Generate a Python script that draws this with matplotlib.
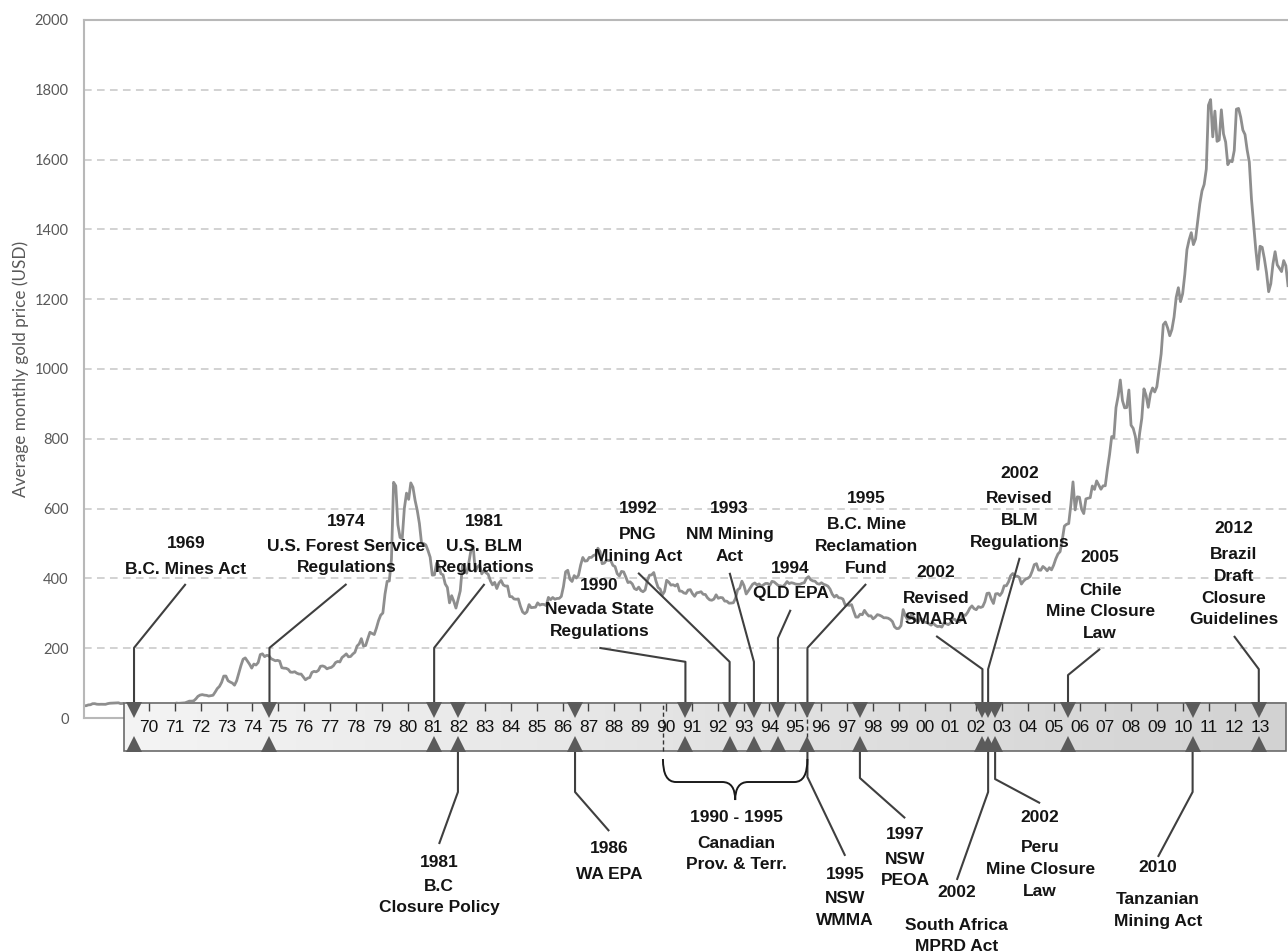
import matplotlib
matplotlib.use("Agg")
import matplotlib.pyplot as plt
import numpy as np
from matplotlib.colors import LinearSegmentedColormap
from matplotlib.patches import PathPatch, Rectangle
from matplotlib.path import Path

# --------------------------------------------------------------------------- #
# data: monthly average gold price (USD/oz), Jan 1968 .. Sep 2014
# --------------------------------------------------------------------------- #
price_1968_1979 = [
    35.2, 35.2, 37.5, 38.0, 41.0, 41.1, 39.5, 39.2, 39.4, 39.2, 39.2, 41.1,
    42.3, 42.6, 43.2, 43.3, 43.5, 41.3, 41.8, 41.0, 40.8, 40.2, 37.4, 35.2,
    34.9, 35.0, 35.1, 35.6, 35.9, 35.4, 35.3, 35.4, 36.2, 37.5, 37.4, 37.4,
    37.9, 38.7, 38.9, 39.0, 40.5, 40.1, 41.0, 42.7, 42.0, 42.5, 42.9, 43.5,
    45.8, 48.3, 48.3, 49.0, 54.6, 62.1, 65.7, 67.0, 65.5, 64.9, 62.9, 63.9,
    65.1, 74.2, 84.4, 90.5, 102.0, 120.1, 120.2, 106.8, 103.0, 100.1, 94.0, 106.7,
    129.0, 150.2, 168.4, 172.2, 163.1, 154.1, 143.0, 154.6, 151.8, 158.8, 181.7, 183.9,
    175.8, 179.6, 178.2, 170.1, 167.0, 164.0, 165.2, 163.0, 144.1, 142.8, 142.4, 139.3,
    131.5, 131.0, 132.6, 128.4, 125.9, 125.8, 117.8, 109.5, 114.0, 116.0, 130.6, 133.6,
    132.3, 136.3, 148.2, 149.2, 146.8, 140.9, 143.6, 144.9, 149.7, 158.8, 162.1, 160.5,
    173.2, 178.2, 183.7, 175.4, 176.2, 183.1, 188.2, 206.1, 212.4, 227.4, 206.0, 207.8,
    227.3, 245.7, 242.1, 239.2, 257.5, 279.1, 294.7, 300.8, 355.1, 391.7, 392.5, 455.1,
]
price_1980_1989 = [
    675.3, 665.3, 553.6, 517.4, 513.8, 600.7, 644.3, 626.5, 673.6, 661.1, 623.5, 594.9,
    557.4, 500.4, 499.8, 495.8, 479.7, 460.8, 409.3, 410.1, 443.6, 437.7, 413.4, 410.1,
    384.2, 374.2, 330.0, 350.5, 334.5, 315.0, 339.5, 364.3, 435.5, 422.3, 415.0, 445.4,
    481.3, 492.0, 420.2, 432.6, 438.4, 413.0, 422.3, 416.2, 411.6, 393.5, 381.6, 388.6,
    370.9, 386.8, 394.2, 381.4, 378.0, 378.3, 347.7, 347.7, 341.1, 340.2, 341.2, 319.9,
    303.9, 298.9, 304.0, 324.9, 316.2, 316.9, 317.5, 329.9, 323.5, 325.8, 325.3, 322.0,
    345.6, 338.9, 345.3, 340.4, 342.5, 342.7, 348.4, 376.6, 418.8, 423.3, 397.7, 391.2,
    408.0, 401.1, 408.8, 438.3, 460.0, 449.6, 450.5, 460.2, 460.0, 465.9, 467.4, 486.5,
    477.4, 442.2, 443.9, 452.0, 451.4, 451.4, 437.3, 433.9, 413.5, 406.9, 420.1, 418.6,
    404.1, 388.0, 390.2, 384.3, 371.0, 367.6, 375.0, 365.4, 361.8, 366.9, 393.9, 409.2,
]
price_1990_1999 = [
    410.1, 416.8, 393.1, 374.3, 369.2, 352.4, 362.5, 394.7, 389.3, 380.7, 381.9, 378.2,
    383.6, 363.8, 363.3, 358.4, 356.8, 366.7, 367.7, 356.2, 348.7, 358.7, 359.8, 361.8,
    354.4, 353.9, 344.3, 338.6, 337.4, 340.9, 353.0, 342.9, 345.3, 344.4, 335.0, 334.7,
    329.0, 329.3, 330.1, 342.2, 367.2, 371.9, 392.0, 379.0, 355.3, 364.2, 373.8, 383.3,
    386.9, 381.5, 384.1, 377.3, 381.4, 385.6, 385.5, 380.4, 391.6, 389.8, 384.4, 379.3,
    378.6, 376.6, 382.3, 391.0, 385.2, 387.6, 386.2, 383.7, 383.1, 383.1, 386.0, 387.4,
    400.0, 405.0, 396.2, 392.9, 392.0, 385.3, 383.5, 387.5, 383.1, 381.1, 377.8, 369.3,
    355.0, 346.6, 351.8, 344.5, 343.8, 340.8, 324.1, 324.0, 322.8, 324.9, 306.0, 289.2,
    289.1, 297.5, 295.9, 308.4, 299.1, 292.3, 292.9, 284.1, 288.9, 296.2, 294.6, 291.6,
    287.1, 287.3, 286.0, 282.4, 276.4, 261.3, 256.1, 256.7, 264.7, 310.7, 293.2, 283.1,
]
price_2000_2009 = [
    284.3, 299.9, 286.4, 279.7, 275.3, 285.7, 281.6, 274.5, 273.7, 270.0, 266.0, 271.5,
    265.5, 261.9, 263.0, 260.5, 272.4, 270.2, 267.5, 272.4, 283.4, 283.1, 276.2, 275.9,
    281.7, 295.5, 294.1, 302.7, 314.5, 321.2, 313.3, 310.3, 319.2, 316.6, 319.1, 333.0,
    356.9, 358.0, 340.6, 328.2, 355.7, 356.5, 351.0, 359.8, 378.9, 378.9, 389.9, 407.6,
    414.0, 405.3, 406.7, 403.0, 383.8, 392.4, 398.1, 400.5, 405.3, 420.5, 439.4, 442.1,
    424.0, 423.4, 434.2, 429.2, 421.9, 430.7, 424.5, 437.9, 456.1, 469.9, 476.7, 510.1,
    549.9, 555.0, 557.1, 610.7, 676.5, 596.2, 633.7, 632.6, 598.2, 585.8, 627.8, 629.8,
    631.2, 664.8, 654.9, 679.4, 667.3, 655.5, 665.3, 665.4, 712.7, 754.6, 806.3, 803.2,
    889.6, 922.3, 968.4, 909.7, 888.7, 889.5, 939.8, 839.0, 829.9, 806.6, 760.9, 816.1,
    858.7, 943.2, 924.3, 890.2, 928.6, 945.7, 934.2, 949.4, 996.6, 1043.2, 1127.0, 1134.7,
]
price_2010_2014 = [
    1118.0, 1095.4, 1113.3, 1148.7, 1205.4, 1232.9, 1193.0, 1215.8, 1271.0, 1342.0, 1369.9, 1390.6,
    1356.4, 1372.7, 1424.0, 1473.8, 1510.4, 1528.7, 1572.8, 1755.8, 1771.9, 1665.2, 1739.0, 1652.3,
    1656.1, 1742.6, 1673.8, 1650.1, 1585.5, 1596.7, 1593.9, 1626.0, 1744.5, 1746.6, 1721.6, 1684.8,
    1671.9, 1627.6, 1593.1, 1487.9, 1414.0, 1343.4, 1285.5, 1351.7, 1348.6, 1316.6, 1275.8, 1221.5,
    1244.3, 1301.0, 1336.1, 1298.5, 1288.7, 1279.1, 1310.6, 1296.0, 1238.8,
]

# timeline (own scale, drawn under the price chart)
timeline_years = list(range(1970, 2014))
marker_pos = [1969.42, 1974.66, 1981.03, 1981.95, 1986.48, 1990.75, 1992.46, 1993.40,
              1994.33, 1995.47, 1997.50, 2002.24, 2002.46, 2002.73, 2005.55, 2010.37, 2012.93]

event_year = ["1969", "1974", "1981", "1990", "1992", "1993", "1994", "1995",
              "2002", "2002", "2005", "2012",
              "1981", "1986", "1995", "1997", "2002", "2002", "2010"]
event_text = ["B.C. Mines Act", "U.S. Forest Service\nRegulations", "U.S. BLM\nRegulations",
              "Nevada State\nRegulations", "PNG\nMining Act", "NM Mining\nAct", "QLD EPA",
              "B.C. Mine\nReclamation\nFund", "Revised\nSMARA", "Revised\nBLM\nRegulations",
              "Chile\nMine Closure\nLaw", "Brazil\nDraft\nClosure\nGuidelines",
              "B.C\nClosure Policy", "WA EPA", "NSW\nWMMA", "NSW\nPEOA",
              "South Africa\nMPRD Act", "Peru\nMine Closure\nLaw", "Tanzanian\nMining Act"]
event_pos = [1969.42, 1974.66, 1981.03, 1990.75, 1992.46, 1993.40, 1994.33, 1995.47,
             2002.24, 2002.46, 2005.55, 2012.93,
             1981.95, 1986.48, 1995.47, 1997.50, 2002.46, 2002.73, 2010.37]
event_side = ["top"] * 12 + ["bottom"] * 7

range_start, range_end = 1989.88, 1995.47
range_year = "1990 - 1995"
range_text = "Canadian\nProv. & Terr."

# --------------------------------------------------------------------------- #
# layout (label centre x in timeline years, heights in USD units)
# --------------------------------------------------------------------------- #
lab_x = [1971.42, 1977.64, 1982.98, 1987.42, 1988.92, 1992.46, 1994.82, 1997.74,
         2000.45, 2003.68, 2006.79, 2011.97,
         1981.22, 1987.80, 1996.93, 1999.25, 2001.25, 2004.47, 2009.03]
year_y = [501, 562, 562, 381, 599, 599, 427, 630, 416, 702, 459, 542,
          -413, -373, -447, -335, -501, -284, -427]
body_y = [448, 514, 514, 331, 546, 546, 377, 575, 365, 649, 388, 489,
          -460, -426, -496, -383, -572, -351, -500]
elbow_y = [201, 201, 201, 161, 161, 161, 229, 201, 140, 140, 123, 140,
           -212, -212, -169, -172, -212, -175, -212]
end_y = [384, 384, 384, 201, 416, 416, 310, 384, 235, 459, 198, 235,
         -361, -324, -395, -287, -464, -244, -398]

BAR_TOP, BAR_BOT = 43, -94.6
BAR_L, BAR_R = 1969.03, 2013.98

price = np.array(price_1968_1979 + price_1980_1989 + price_1990_1999
                 + price_2000_2009 + price_2010_2014)
dates = 1968 + np.arange(len(price)) / 12

fig = plt.figure(figsize=(12.88, 9.52), dpi=100)
ax = fig.add_axes([84 / 1288, 234 / 952, 1204 / 1288, 698 / 952])

ax.plot(dates, price, color="#8e8e8e", lw=2.0, solid_joinstyle="round", zorder=2)
ax.set_xlim(1968, dates[-1])
ax.set_xticks([])
ax.set_yticks(np.arange(0, 2001, 200))
ax.tick_params(axis="y", length=0, pad=11, labelcolor="#595959", labelsize=10.5)
for t in ax.get_yticklabels():
    t.set_family("Lato")
ax.yaxis.grid(True, ls=(0, (5, 3.5)), color="#c6c6c6", lw=1.1)
ax.set_axisbelow(True)
ax.set_ylabel("Average monthly gold price (USD)", color="#595959", fontsize=12.3, family="Lato")
ax.yaxis.set_label_coords(-0.046, 0.5)
for s in ["right", "bottom"]:
    ax.spines[s].set_visible(False)
for s in ["top", "left"]:
    ax.spines[s].set_color("#b8b8b8")
    ax.spines[s].set_linewidth(1.5)

# timeline axes shares the price scale vertically
ax2 = ax.twiny()
ax2.set_xlim(1967.485, 2014.06)
ax2.set_xticks([])
for s in ["top", "left", "right"]:
    ax2.spines[s].set_visible(False)
ax2.spines["bottom"].set_color("#b8b8b8")
ax2.spines["bottom"].set_linewidth(1.5)
ax2.spines["bottom"].set_bounds(1967.485, BAR_L)

cmap = LinearSegmentedColormap.from_list("bar", ["#f4f4f4", "#d2d2d2"])
im = ax2.imshow(np.linspace(0, 1, 256)[None, :], extent=[BAR_L, BAR_R, BAR_BOT, BAR_TOP],
                aspect="auto", cmap=cmap, zorder=3)
im.set_clip_on(False)
ax2.add_patch(Rectangle((BAR_L, BAR_BOT), BAR_R - BAR_L, BAR_TOP - BAR_BOT, fill=False,
                        ec="#6b6b6b", lw=1.2, clip_on=False, zorder=4))
ax2.vlines(timeline_years, BAR_TOP - 23, BAR_TOP, color="#404040", lw=1, zorder=5, clip_on=False)
for y in timeline_years:
    ax2.text(y, -28.6, f"{y % 100:02d}", ha="center", va="center", fontsize=12.5,
             family="Liberation Sans", color="#111111", zorder=6, clip_on=False)
ax2.vlines([range_start, range_end], BAR_BOT, BAR_TOP, color="#333333", lw=1,
           linestyles=(0, (3, 2)), zorder=5, clip_on=False)

ax2.plot(marker_pos, [22.9] * len(marker_pos), "v", ms=11.5, color="#5b5b5b", mew=0,
         clip_on=False, zorder=7)
ax2.plot(marker_pos, [-74.5] * len(marker_pos), "^", ms=11.5, color="#5b5b5b", mew=0,
         clip_on=False, zorder=7)

lab_font = dict(family="Liberation Sans", fontweight="bold", fontsize=12.5, color="#141414",
                ha="center", clip_on=False, zorder=8, linespacing=1.56)
for i in range(len(event_year)):
    start = BAR_TOP if event_side[i] == "top" else BAR_BOT
    ax2.plot([event_pos[i], event_pos[i], lab_x[i]], [start, elbow_y[i], end_y[i]],
             color="#3f3f3f", lw=1.5, clip_on=False, zorder=5, solid_capstyle="butt")
    ax2.text(lab_x[i], year_y[i], event_year[i], va="center", **lab_font)
    ax2.text(lab_x[i], body_y[i], event_text[i], va="top", **lab_font)

# curly brace for the 1990 - 1995 Canadian range
bx0, bx1 = range_start, range_end
bxm = (bx0 + bx1) / 2
yt, ym, yp = -117.5, -183.4, -235
r = 0.5
verts = [(bx0, yt), (bx0, ym), (bx0 + r, ym), (bxm - r, ym), (bxm, ym), (bxm, yp),
         (bxm, ym), (bxm + r, ym), (bx1 - r, ym), (bx1, ym), (bx1, yt)]
codes = [Path.MOVETO, Path.CURVE3, Path.CURVE3, Path.LINETO, Path.CURVE3, Path.CURVE3,
         Path.CURVE3, Path.CURVE3, Path.LINETO, Path.CURVE3, Path.CURVE3]
ax2.add_patch(PathPatch(Path(verts, codes), fill=False, ec="#1a1a1a", lw=1.4, clip_on=False, zorder=5))
ax2.text(bxm + 0.05, -283.7, range_year, va="center", **lab_font)
ax2.text(bxm + 0.05, -336.7, range_text, va="top", **lab_font)

ax.set_ylim(0, 2000)
ax2.set_xlim(1967.485, 2014.06)

fig.savefig("out.png", dpi=100)
